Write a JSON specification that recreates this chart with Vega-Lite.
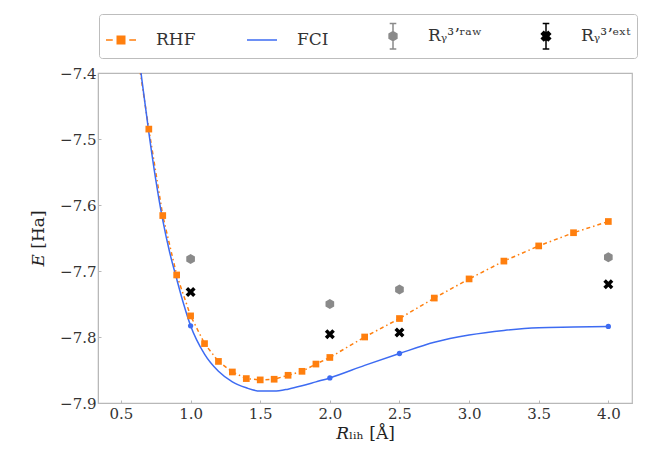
{
  "$schema": "https://vega.github.io/schema/vega-lite/v6.json",
  "width": 534,
  "height": 330,
  "autosize": {"type": "none"},
  "padding": {"left": 98, "top": 73, "right": 22, "bottom": 55},
  "background": "white",
  "config": {
    "view": {"stroke": "#b8b8b8", "strokeWidth": 1.2},
    "axis": {
      "labelFont": "DejaVu Serif",
      "labelFontSize": 15,
      "labelColor": "#333333",
      "titleFont": "DejaVu Serif",
      "titleFontSize": 17,
      "titleFontWeight": "normal",
      "titleColor": "#222222",
      "domainColor": "#b8b8b8",
      "tickColor": "#b8b8b8",
      "grid": false
    }
  },
  "datasets": {
    "rhf": [
      {"series": "RHF", "R": 0.6, "E": -7.345},
      {"series": "RHF", "R": 0.7, "E": -7.485},
      {"series": "RHF", "R": 0.8, "E": -7.616},
      {"series": "RHF", "R": 0.9, "E": -7.706},
      {"series": "RHF", "R": 1.0, "E": -7.768},
      {"series": "RHF", "R": 1.1, "E": -7.810},
      {"series": "RHF", "R": 1.2, "E": -7.837},
      {"series": "RHF", "R": 1.3, "E": -7.853},
      {"series": "RHF", "R": 1.4, "E": -7.863},
      {"series": "RHF", "R": 1.5, "E": -7.865},
      {"series": "RHF", "R": 1.6, "E": -7.864},
      {"series": "RHF", "R": 1.7, "E": -7.858},
      {"series": "RHF", "R": 1.8, "E": -7.852},
      {"series": "RHF", "R": 1.9, "E": -7.841},
      {"series": "RHF", "R": 2.0, "E": -7.831},
      {"series": "RHF", "R": 2.25, "E": -7.800},
      {"series": "RHF", "R": 2.5, "E": -7.772},
      {"series": "RHF", "R": 2.75, "E": -7.741},
      {"series": "RHF", "R": 3.0, "E": -7.712},
      {"series": "RHF", "R": 3.25, "E": -7.685},
      {"series": "RHF", "R": 3.5, "E": -7.662},
      {"series": "RHF", "R": 3.75, "E": -7.642},
      {"series": "RHF", "R": 4.0, "E": -7.625}
    ],
    "fci": [
      {"series": "FCI", "R": 0.62, "E": -7.360},
      {"series": "FCI", "R": 0.65, "E": -7.410},
      {"series": "FCI", "R": 0.70, "E": -7.490},
      {"series": "FCI", "R": 0.75, "E": -7.562},
      {"series": "FCI", "R": 0.80, "E": -7.623},
      {"series": "FCI", "R": 0.85, "E": -7.672},
      {"series": "FCI", "R": 0.90, "E": -7.712},
      {"series": "FCI", "R": 0.95, "E": -7.750},
      {"series": "FCI", "R": 1.00, "E": -7.783},
      {"series": "FCI", "R": 1.10, "E": -7.826},
      {"series": "FCI", "R": 1.20, "E": -7.852},
      {"series": "FCI", "R": 1.30, "E": -7.868},
      {"series": "FCI", "R": 1.40, "E": -7.877},
      {"series": "FCI", "R": 1.50, "E": -7.882},
      {"series": "FCI", "R": 1.60, "E": -7.882},
      {"series": "FCI", "R": 1.70, "E": -7.879},
      {"series": "FCI", "R": 1.80, "E": -7.874},
      {"series": "FCI", "R": 1.90, "E": -7.868},
      {"series": "FCI", "R": 2.00, "E": -7.862},
      {"series": "FCI", "R": 2.25, "E": -7.843},
      {"series": "FCI", "R": 2.50, "E": -7.825},
      {"series": "FCI", "R": 2.75, "E": -7.808},
      {"series": "FCI", "R": 3.00, "E": -7.797},
      {"series": "FCI", "R": 3.25, "E": -7.790},
      {"series": "FCI", "R": 3.50, "E": -7.786},
      {"series": "FCI", "R": 3.75, "E": -7.785},
      {"series": "FCI", "R": 4.00, "E": -7.784}
    ],
    "fcipts": [
      {"series": "FCI", "R": 1.0, "E": -7.783},
      {"series": "FCI", "R": 2.0, "E": -7.862},
      {"series": "FCI", "R": 2.5, "E": -7.825},
      {"series": "FCI", "R": 4.0, "E": -7.784}
    ],
    "raw": [
      {"series": "Rᵧ³ʼʳᵃʷ", "R": 1.0, "E": -7.682},
      {"series": "Rᵧ³ʼʳᵃʷ", "R": 2.0, "E": -7.750},
      {"series": "Rᵧ³ʼʳᵃʷ", "R": 2.5, "E": -7.728},
      {"series": "Rᵧ³ʼʳᵃʷ", "R": 4.0, "E": -7.679}
    ],
    "ext": [
      {"series": "Rᵧ³ʼᵉˣᵗ", "R": 1.0, "E": -7.732},
      {"series": "Rᵧ³ʼᵉˣᵗ", "R": 2.0, "E": -7.796},
      {"series": "Rᵧ³ʼᵉˣᵗ", "R": 2.5, "E": -7.793},
      {"series": "Rᵧ³ʼᵉˣᵗ", "R": 4.0, "E": -7.720}
    ]
  },
  "encoding": {
    "x": {
      "field": "R", "type": "quantitative",
      "scale": {"domain": [0.335, 4.17], "nice": false, "zero": false},
      "axis": {"values": [0.5, 1.0, 1.5, 2.0, 2.5, 3.0, 3.5, 4.0], "format": ".1f", "title": "𝑅ₗᵢₕ [Å]", "tickSize": -3, "labelPadding": 6, "titlePadding": 4}
    },
    "y": {
      "field": "E", "type": "quantitative",
      "scale": {"domain": [-7.9, -7.4], "nice": false, "zero": false},
      "axis": {"values": [-7.9, -7.8, -7.7, -7.6, -7.5, -7.4], "format": ".1f", "title": "𝐸 [Ha]", "tickSize": -3, "labelPadding": 5, "titlePadding": 12}
    },
    "color": {
      "field": "series", "type": "nominal",
      "scale": {"domain": ["RHF", "FCI", "Rᵧ³ʼʳᵃʷ", "Rᵧ³ʼᵉˣᵗ"], "range": ["#ff7f0e", "#3d6bf2", "#8a8a8a", "#000000"]},
      "legend": {
        "orient": "none", "legendX": 1, "legendY": -59,
        "direction": "horizontal", "columns": 4, "columnPadding": 48,
        "symbolSize": 900, "labelOffset": 19,
        "labelFont": "DejaVu Serif", "labelFontSize": 17, "labelColor": "#333333",
        "padding": 6, "strokeColor": "#bdbdbd", "fillColor": "white", "cornerRadius": 3,
        "title": null,
        "encode": {
          "symbols": {
            "update": {
              "shape": {"signal": "datum.value === 'RHF' ? 'M-1,0H-0.55M0.55,0H1M-0.25,-0.25H0.25V0.25H-0.25Z' : datum.value === 'FCI' ? 'M-1,0H1' : datum.value === 'Rᵧ³ʼʳᵃʷ' ? 'M0,-0.85V0.85M-0.22,-0.85H0.22M-0.22,0.85H0.22M0,-0.3L0.26,-0.15L0.26,0.15L0,0.3L-0.26,0.15L-0.26,-0.15Z' : 'M0,-0.85V0.85M-0.22,-0.85H0.22M-0.22,0.85H0.22M-0.3,-0.15L-0.15,-0.3L0,-0.15L0.15,-0.3L0.3,-0.15L0.15,0L0.3,0.15L0.15,0.3L0,0.15L-0.15,0.3L-0.3,0.15L-0.15,0Z'"},
              "fill": {"signal": "datum.value === 'FCI' ? 'transparent' : scale('color', datum.value)"},
              "stroke": {"signal": "scale('color', datum.value)"},
              "strokeWidth": {"value": 1.5},
              "opacity": {"value": 1},
              "size": {"value": 900}
            }
          }
        }
      }
    }
  },
  "layer": [
    {
      "data": {"name": "rhf"},
      "mark": {"type": "line", "clip": true, "strokeWidth": 1.5, "strokeDash": [4, 3, 1.5, 3]}
    },
    {
      "data": {"name": "fci"},
      "mark": {"type": "line", "clip": true, "strokeWidth": 1.5, "interpolate": "monotone"}
    },
    {
      "data": {"name": "rhf"},
      "mark": {"type": "point", "clip": true, "shape": "square", "filled": true, "size": 45, "opacity": 1}
    },
    {
      "data": {"name": "fcipts"},
      "mark": {"type": "point", "clip": true, "shape": "circle", "filled": true, "size": 28, "opacity": 1}
    },
    {
      "data": {"name": "raw"},
      "mark": {"type": "point", "clip": true, "shape": "M0,-1L0.866,-0.5L0.866,0.5L0,1L-0.866,0.5L-0.866,-0.5Z", "filled": true, "size": 100, "opacity": 1}
    },
    {
      "data": {"name": "ext"},
      "mark": {"type": "point", "clip": true, "shape": "M-1,-0.5L-0.5,-1L0,-0.5L0.5,-1L1,-0.5L0.5,0L1,0.5L0.5,1L0,0.5L-0.5,1L-1,0.5L-0.5,0Z", "filled": true, "size": 100, "opacity": 1}
    }
  ]
}
